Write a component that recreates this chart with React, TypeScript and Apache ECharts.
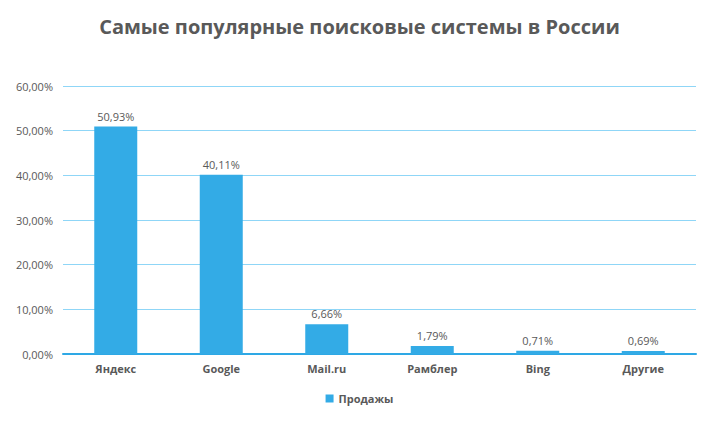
import React, { useEffect, useRef } from "react";
import * as echarts from "echarts";

const categories = ["Яндекс", "Google", "Mail.ru", "Рамблер", "Bing", "Другие"];
const values = [50.93, 40.11, 6.66, 1.79, 0.71, 0.69];
const seriesName = "Продажы";
const titleText = "Самые популярные поисковые системы в России";

const fmt = (v: number) => v.toFixed(2).replace(".", ",") + "%";

export default function App() {
  const ref = useRef<HTMLDivElement>(null);
  useEffect(() => {
    if (!ref.current) return;
    const chart = echarts.init(ref.current, null, { renderer: "svg" });
    chart.setOption({
      animation: false,
      backgroundColor: "#ffffff",
      textStyle: { fontFamily: "Open Sans" },
      title: {
        text: titleText,
        left: "center",
        top: 3,
        textStyle: { fontSize: 20, fontWeight: "bold", color: "#595959", fontFamily: "Open Sans" },
      },
      legend: {
        bottom: 4,
        left: "center",
        icon: "rect",
        itemWidth: 8,
        itemHeight: 8,
        textStyle: { fontSize: 11, fontWeight: "bold", color: "#595959" },
        data: [seriesName],
      },
      grid: { left: 55, right: 15, top: 78, bottom: 59 },
      xAxis: {
        type: "category",
        data: categories,
        axisLine: { show: true, lineStyle: { color: "#2ea8e5", width: 2 } },
        axisTick: { show: false },
        axisLabel: { fontSize: 11, fontWeight: "bold", color: "#595959", margin: 9 },
      },
      yAxis: {
        type: "value",
        min: 0,
        max: 60,
        interval: 10,
        axisLine: { show: false },
        axisTick: { show: false },
        axisLabel: { fontSize: 11, color: "#595959", formatter: (v: number) => fmt(v), margin: 10 },
        splitLine: { lineStyle: { color: "#8fd6f7", width: 1 } },
      },
      series: [
        {
          name: seriesName,
          type: "bar",
          data: values,
          barWidth: 43,
          itemStyle: { color: "#33abe6" },
          label: {
            show: true,
            position: "top",
            fontSize: 11,
            color: "#595959",
            formatter: (p: any) => fmt(p.value),
          },
        },
      ],
    });
    return () => chart.dispose();
  }, []);
  return <div ref={ref} style={{ width: 703, height: 405 }} />;
}
